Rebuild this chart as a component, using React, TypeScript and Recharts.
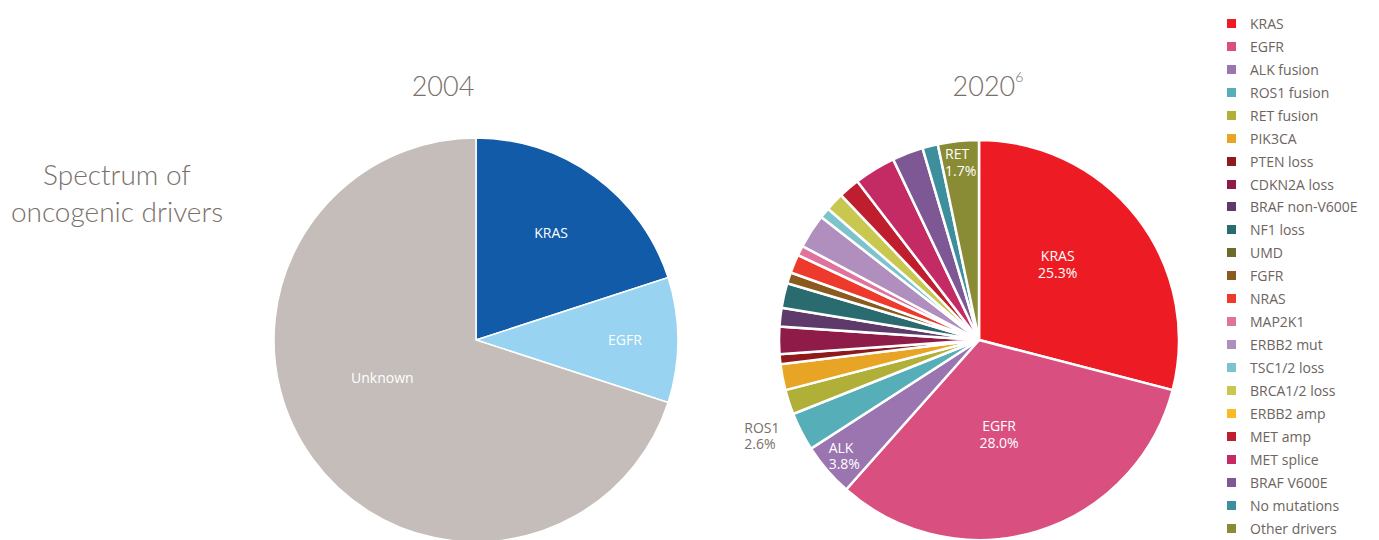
import React from "react";
import { PieChart, Pie, Cell } from "recharts";

// 2004 panel
const drivers2004 = ["KRAS", "EGFR", "Unknown"];
const shares2004 = [20, 10, 70];
const colors2004 = ["#125ba8", "#98d3f1", "#c4bdb9"];

// 2020 panel (legend order = slice order, clockwise from 12 o'clock)
const drivers2020 = [
  "KRAS", "EGFR", "ALK fusion", "ROS1 fusion", "RET fusion", "PIK3CA",
  "PTEN loss", "CDKN2A loss", "BRAF non-V600E", "NF1 loss", "UMD", "FGFR",
  "NRAS", "MAP2K1", "ERBB2 mut", "TSC1/2 loss", "BRCA1/2 loss", "ERBB2 amp",
  "MET amp", "MET splice", "BRAF V600E", "No mutations", "Other drivers",
];
const shares2020 = [
  29.0, 32.5, 4.3, 3.1, 2.0, 2.1,
  0.8, 2.2, 1.5, 2.0, 0, 0.9,
  1.5, 0.8, 2.75, 0.85, 1.5, 0,
  1.7, 3.35, 2.5, 1.25, 3.3,
];
const colors2020 = [
  "#ed1c24", "#d95080", "#9a75b0", "#56aeb8", "#b0b038", "#e8a424",
  "#8e1a1e", "#8e1b48", "#5e3a6a", "#2a6b70", "#6b6b2a", "#8b5a1f",
  "#ee3a2c", "#e0739e", "#b08fbf", "#7cc3cb", "#c8c850", "#fbb923",
  "#be1e2d", "#c42a63", "#7e5894", "#3e8f9e", "#8a8c35",
];

// text printed on the slices
const labels2004: Record<string, string[]> = {
  KRAS: ["KRAS"],
  EGFR: ["EGFR"],
  Unknown: ["Unknown"],
};
const labels2020: Record<string, string[]> = {
  KRAS: ["KRAS", "25.3%"],
  EGFR: ["EGFR", "28.0%"],
  "ALK fusion": ["ALK", "3.8%"],
  "ROS1 fusion": ["ROS1", "2.6%"],
  "Other drivers": ["RET", "1.7%"],
};

const TEXT = "#7a706b";
const FONT = "'Open Sans', Roboto, sans-serif";
const NOMARGIN = { top: 0, right: 0, bottom: 0, left: 0 };

type Place = { r: number; da?: number; color?: string; left?: number };

const place2004: Record<string, Place> = {
  KRAS: { r: 131, da: 1 },
  EGFR: { r: 149 },
  Unknown: { r: 101, da: -14 },
};
const place2020: Record<string, Place> = {
  KRAS: { r: 109, da: 6 },
  EGFR: { r: 97, da: -5 },
  "ALK fusion": { r: 177, da: 0.5, left: 17 },
  "ROS1 fusion": { r: 238, da: -3.5, color: TEXT, left: 17 },
  "Other drivers": { r: 178, da: -0.5, left: 17 },
};

function makeLabel(place: Record<string, Place>, texts: Record<string, string[]>) {
  return (props: any) => {
    const { cx, cy, midAngle } = props;
    const name = props.payload?.name ?? props.name;
    const p = place[name];
    const lines = texts[name];
    if (!p || !lines) return null;
    const a = ((midAngle + (p.da ?? 0)) * Math.PI) / 180;
    let x = cx + p.r * Math.cos(a);
    const y = cy - p.r * Math.sin(a);
    const anchor = p.left ? "start" : "middle";
    if (p.left) x -= p.left;
    return (
      <text
        x={x}
        y={y}
        fill={p.color ?? "#ffffff"}
        textAnchor={anchor}
        fontSize={14}
        fontFamily={FONT}
      >
        {lines.map((t, i) => (
          <tspan key={i} x={x} dy={i === 0 ? (lines.length > 1 ? -3.5 : 5) : 16.5}>
            {t}
          </tspan>
        ))}
      </text>
    );
  };
}

const data2004 = drivers2004.map((name, i) => ({ name, value: shares2004[i], color: colors2004[i] }));
const data2020 = drivers2020
  .map((name, i) => ({ name, value: shares2020[i], color: colors2020[i] }))
  .filter((d) => d.value > 0);

const titleStyle: React.CSSProperties = {
  position: "absolute",
  width: 200,
  top: 69,
  textAlign: "center",
  color: TEXT,
  fontFamily: "Lato, sans-serif",
  fontWeight: 300,
  fontSize: 27,
};

export default function App() {
  return (
    <div
      style={{
        position: "absolute",
        left: 0,
        top: 0,
        width: 1379,
        height: 540,
        overflow: "hidden",
        background: "#fff",
        fontFamily: FONT,
      }}
    >
      <div
        style={{
          position: "absolute",
          left: 0,
          width: 234,
          top: 156,
          textAlign: "center",
          color: TEXT,
          fontFamily: "Lato, sans-serif",
          fontWeight: 300,
          fontSize: 28,
          lineHeight: "37px",
        }}
      >
        Spectrum of
        <br />
        oncogenic drivers
      </div>

      <div style={{ ...titleStyle, left: 343 }}>2004</div>
      <div style={{ ...titleStyle, left: 888 }}>
        2020<sup style={{ fontSize: 14, verticalAlign: "top", position: "relative", top: -1 }}>6</sup>
      </div>

      <div style={{ position: "absolute", left: 256, top: 120 }}>
        <PieChart width={440} height={440} margin={NOMARGIN}>
          <Pie
            data={data2004}
            dataKey="value"
            nameKey="name"
            cx={220}
            cy={220}
            outerRadius={202}
            startAngle={90}
            endAngle={-270}
            stroke="#ffffff"
            strokeWidth={1.5}
            label={makeLabel(place2004, labels2004)}
            labelLine={false}
            isAnimationActive={false}
          >
            {data2004.map((d) => (
              <Cell key={d.name} fill={d.color} />
            ))}
          </Pie>
        </PieChart>
      </div>

      <div style={{ position: "absolute", left: 719, top: 120 }}>
        <PieChart width={520} height={440} margin={NOMARGIN}>
          <Pie
            data={data2020}
            dataKey="value"
            nameKey="name"
            cx={260}
            cy={220}
            outerRadius={200}
            startAngle={90}
            endAngle={-270}
            stroke="#ffffff"
            strokeWidth={2.5}
            label={makeLabel(place2020, labels2020)}
            labelLine={false}
            isAnimationActive={false}
          >
            {data2020.map((d) => (
              <Cell key={d.name} fill={d.color} />
            ))}
          </Pie>
        </PieChart>
      </div>

      <div style={{ position: "absolute", left: 1227, top: 12 }}>
        {drivers2020.map((name, i) => (
          <div
            key={name}
            style={{ height: 22.95, display: "flex", alignItems: "center", color: "#6d6460", fontSize: 14 }}
          >
            <span
              style={{ width: 9, height: 9, background: colors2020[i], display: "inline-block", marginRight: 14 }}
            />
            <span style={{ whiteSpace: "nowrap" }}>{name}</span>
          </div>
        ))}
      </div>
    </div>
  );
}
